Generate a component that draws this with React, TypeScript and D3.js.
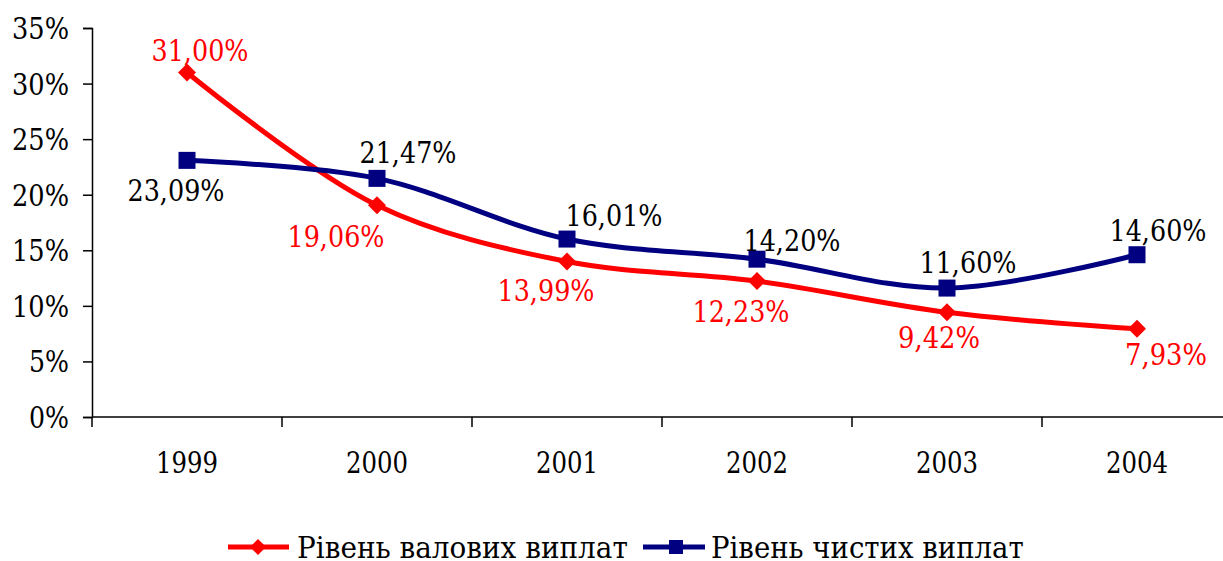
import React, { useEffect, useRef } from 'react';
import * as d3 from 'd3';

const years = ['1999', '2000', '2001', '2002', '2003', '2004'];
const grossRate = [31.0, 19.06, 13.99, 12.23, 9.42, 7.93];
const netRate = [23.09, 21.47, 16.01, 14.2, 11.6, 14.6];
const yTicks = [0, 5, 10, 15, 20, 25, 30, 35];
const grossName = 'Рівень валових виплат';
const netName = 'Рівень чистих виплат';

// label offsets from the point (dx, dy of text centre)
const grossLabelOffset = [[13, -22], [-41, 31], [-21, 29], [-16, 30], [-8, 25], [29, 25]];
const netLabelOffset = [[-11, 30], [31, -26], [47, -24], [35, -19], [21, -26], [21, -25]];

const fmt = (v: number) => v.toFixed(2).replace('.', ',') + '%';

const App = () => {
  const ref = useRef<SVGSVGElement>(null);

  useEffect(() => {
    const svg = d3.select(ref.current);
    svg.selectAll('*').remove();

    const left = 92;
    const right = 1232;
    const top = 28;
    const bottom = 417;
    const font = "'DejaVu Serif', serif";

    const x = d3.scaleBand().domain(years).range([left, right]);
    const y = d3.scaleLinear().domain([0, 35]).range([bottom, top]);
    const cx = (d: string) => (x(d) as number) + x.bandwidth() / 2;

    // y axis
    const yAxis = svg.append('g').attr('transform', `translate(${left},0)`)
      .call(d3.axisLeft(y).tickValues(yTicks).tickSize(9).tickPadding(14).tickFormat((d) => d + '%'));
    yAxis.attr('font-family', null).attr('font-size', null);
    yAxis.select('.domain').attr('stroke', '#000').attr('stroke-width', 1.5);
    yAxis.selectAll('line').attr('stroke', '#000').attr('stroke-width', 1.5);
    yAxis.selectAll('text').style('font-family', font).style('font-size', '29px').attr('fill', '#000').attr('dy', '0.36em')
      .attr('textLength', (d: any) => (d >= 10 ? 57 : 40)).attr('lengthAdjust', 'spacingAndGlyphs');

    // x axis: ticks between categories
    const xg = svg.append('g');
    xg.append('line').attr('x1', left).attr('x2', right).attr('y1', bottom).attr('y2', bottom)
      .attr('stroke', '#000').attr('stroke-width', 1.5);
    d3.range(years.length + 1).forEach((i) => {
      const xx = left + i * x.step();
      xg.append('line').attr('x1', xx).attr('x2', xx).attr('y1', bottom).attr('y2', bottom + 10)
        .attr('stroke', '#000').attr('stroke-width', 1.5);
    });
    xg.selectAll('text.yr').data(years).enter().append('text')
      .attr('x', (d) => cx(d)).attr('y', 473)
      .attr('text-anchor', 'middle').style('font-family', font).style('font-size', '29px')
      .attr('textLength', 62).attr('lengthAdjust', 'spacingAndGlyphs')
      .text((d) => d);

    const line = d3.line<number>()
      .x((_, i) => cx(years[i]))
      .y((d) => y(d))
      .curve(d3.curveCatmullRom.alpha(0.5));

    const diamond = (g: any, px: number, py: number, r: number, color: string) =>
      g.append('path').attr('d', `M${px},${py - r}L${px + r},${py}L${px},${py + r}L${px - r},${py}Z`).attr('fill', color);
    const square = (g: any, px: number, py: number, s: number, color: string) =>
      g.append('rect').attr('x', px - s / 2).attr('y', py - s / 2).attr('width', s).attr('height', s).attr('fill', color);

    const red = '#ff0000';
    const navy = '#000080';

    svg.append('path').datum(grossRate).attr('d', line).attr('fill', 'none').attr('stroke', red).attr('stroke-width', 5);
    svg.append('path').datum(netRate).attr('d', line).attr('fill', 'none').attr('stroke', navy).attr('stroke-width', 5);

    grossRate.forEach((v, i) => diamond(svg, cx(years[i]), y(v), 9, red));
    netRate.forEach((v, i) => square(svg, cx(years[i]), y(v), 17, navy));

    const label = (v: number, i: number, off: number[][], color: string, w: number) =>
      svg.append('text').attr('x', cx(years[i]) + off[i][0]).attr('y', y(v) + off[i][1])
        .attr('dy', '0.36em').attr('text-anchor', 'middle').style('font-family', font).style('font-size', '30px')
        .attr('textLength', w).attr('lengthAdjust', 'spacingAndGlyphs')
        .attr('fill', color).text(fmt(v));
    grossRate.forEach((v, i) => label(v, i, grossLabelOffset, red, v >= 10 ? 97 : 82));
    netRate.forEach((v, i) => label(v, i, netLabelOffset, '#000', v >= 10 ? 97 : 82));

    // legend: condensed text, scaled to the reference width
    const lg = svg.append('g');
    const ly = 547;
    const legendText = (tx: number, width: number, name: string) => {
      const g = lg.append('g');
      const t = g.append('text').attr('x', 0).attr('y', 0).style('font-family', font).style('font-size', '30px').text(name);
      const natural = (t.node() as SVGTextElement).getComputedTextLength() || width;
      g.attr('transform', `translate(${tx},558) scale(${width / natural},1)`);
    };
    lg.append('line').attr('x1', 228).attr('x2', 289).attr('y1', ly).attr('y2', ly).attr('stroke', red).attr('stroke-width', 5);
    diamond(lg, 258, ly, 8, red);
    legendText(297, 331, grossName);
    lg.append('line').attr('x1', 643).attr('x2', 705).attr('y1', ly).attr('y2', ly).attr('stroke', navy).attr('stroke-width', 5);
    square(lg, 676, ly, 14, navy);
    legendText(711, 313, netName);
  }, []);

  return (
    <svg ref={ref} width={1223} height={561} style={{ position: 'absolute', left: 0, top: 0, background: '#fff' }} />
  );
};

export default App;
